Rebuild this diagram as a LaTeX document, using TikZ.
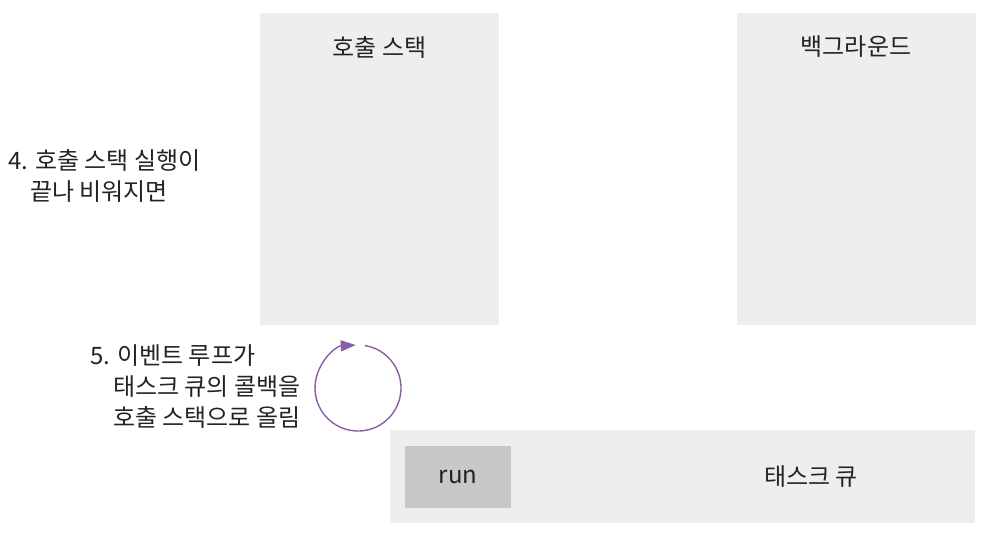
\documentclass[tikz,border=0pt]{standalone}
\usepackage{fontspec}
\setmainfont{Noto Sans CJK KR}
\usetikzlibrary{arrows.meta,calc}
\definecolor{panelgray}{RGB}{237,238,238}
\definecolor{rungray}{RGB}{200,200,200}
\definecolor{looppurple}{RGB}{137,94,166}
\definecolor{inkgray}{RGB}{35,35,35}

\begin{document}
\begin{tikzpicture}[
        %Environment config
        x=1pt, y=-1pt,
        font=\fontsize{24}{31}\selectfont,
        text=inkgray,
        %Environment styles
        PanelCfg/.style={
            rectangle,
            fill=panelgray,
            inner sep=0pt
        },
        NoteCfg/.style={
            align=left,
            anchor=base west,
            inner sep=0pt
        }
    ]
    \useasboundingbox (0,0) rectangle (993,533);

    % panels
    \path
        (379.5,169) node[PanelCfg,minimum width=239pt,minimum height=312pt](STACK){}
        (856,169) node[PanelCfg,minimum width=239pt,minimum height=312pt](BG){}
        (682.5,476.5) node[PanelCfg,minimum width=585pt,minimum height=93pt](QUEUE){}
        (458,477) node[PanelCfg,fill=rungray,minimum width=106pt,minimum height=62pt](RUN){run};

    % titles
    \path
        (STACK.north |- 0,47) node(T1){호출 스택}
        (BG.north |- 0,47) node(T2){백그라운드}
        (811,477) node(T3){태스크 큐};

    % notes (base = last line)
    \path
        (8,200) node[NoteCfg](N4){4. 호출 스택 실행이\\\hspace*{22pt}끝나 비워지면}
        (90,426) node[NoteCfg](N5){5. 이벤트 루프가\\\hspace*{23pt}태스크 큐의 콜백을\\\hspace*{23pt}호출 스택으로 올림};

    % event loop
    \coordinate (LOOP) at (358,388);
    \draw[looppurple, line width=1.4pt, -{Triangle[length=15pt,width=11pt]}]
        (LOOP) ++(81:43pt) arc[start angle=81, end angle=-267, radius=43pt];
\end{tikzpicture}
\end{document}
